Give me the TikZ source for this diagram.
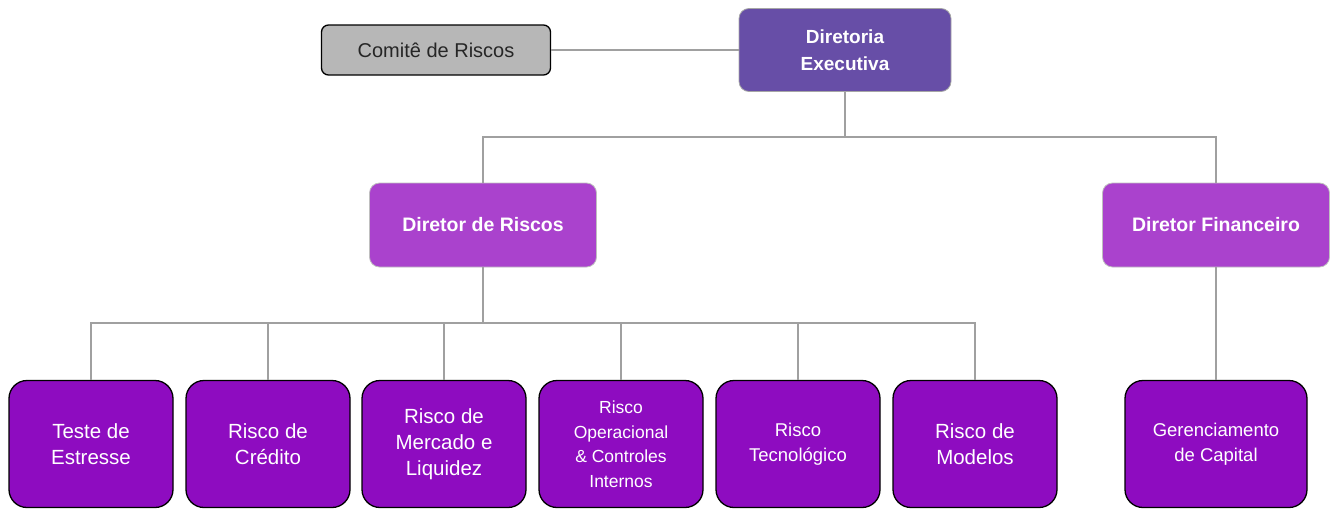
\documentclass[tikz,border=0pt]{standalone}
\usepackage{fontspec}
\setmainfont{Liberation Sans}
\definecolor{execcol}{HTML}{674EA7}
\definecolor{chiefcol}{HTML}{AA42CD}
\definecolor{unitcol}{HTML}{8E0CC0}
\definecolor{boardcol}{HTML}{B7B7B7}
\definecolor{wirecol}{HTML}{A0A0A0}
\begin{document}
\begin{tikzpicture}[x=1pt,y=-1pt,
    committee/.style ={draw=black, line width=1.3pt, fill=boardcol, rounded corners=7pt,
      minimum width=229pt, minimum height=50pt, text=black!85,
      font=\fontsize{20}{24}\selectfont},
    execbox/.style ={draw=black!35, line width=0.8pt, fill=execcol, rounded corners=10pt,
      minimum width=212pt, minimum height=83pt, text=white, align=center,
      font=\bfseries\fontsize{19}{27}\selectfont},
    chiefbox/.style ={draw=black!25, line width=0.8pt, fill=chiefcol, rounded corners=10pt,
      minimum width=227pt, minimum height=84pt, text=white,
      font=\bfseries\fontsize{19.5}{24}\selectfont},
    unitbox/.style ={draw=black, line width=1.3pt, fill=unitcol, rounded corners=18pt,
      minimum width=164pt, minimum height=127pt, text=white, align=center,
      font=\fontsize{20.5}{26}\selectfont},
    smalltext/.style ={font=\fontsize{17.5}{24.5}\selectfont},
    wire/.style ={draw=wirecol, line width=1.2pt}]
   \useasboundingbox (0,0) rectangle (1331,509);
   % top level
   \node[committee] (board) at (436,50)  {Comitê de Riscos};
   \node[execbox] (exec) at (845,50)  {Diretoria\\Executiva};
   \node[chiefbox] (cro) at (483,225)  {Diretor de Riscos};
   \node[chiefbox] (cfo) at (1216,225)  {Diretor Financeiro};
   % risk units
   \node[unitbox] (stress) at (91,444)  {Teste de\\Estresse};
   \node[unitbox] (credit) at (268,444)  {Risco de\\Crédito};
   \node[unitbox] (market) at (444,444)  {Risco de\\Mercado e\\Liquidez};
   \node[unitbox,smalltext] (oper) at (621,444)  {Risco\\Operacional\\\&~Controles\\Internos};
   \node[unitbox,font=\fontsize{18.5}{25}\selectfont] (tech) at (798,444)  {Risco\\Tecnológico};
   \node[unitbox] (models) at (975,444)  {Risco de\\Modelos};
   \node[unitbox,minimum width=182pt,font=\fontsize{18.5}{25}\selectfont] (capital) at (1216,444)  {Gerenciamento\\de Capital};
   \coordinate (ebus) at (845,137);
   \coordinate (rbus) at (483,323);
   \draw[wire] (board) -- (exec);
   \draw[wire] (exec.south) -- (ebus);
   \draw[wire] (cro.north) |- (ebus) -| (cfo.north);
   \draw[wire] (cro.south) -- (rbus);
   \foreach \unit in {stress,credit,market,oper,tech,models}
     \draw[wire] (rbus) -| (\unit.north);
   \draw[wire] (cfo.south) -- (capital.north);
 \end{tikzpicture}
\end{document}
